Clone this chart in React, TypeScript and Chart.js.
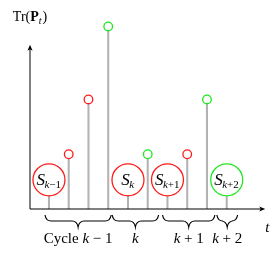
import React, { useEffect, useRef } from "react";
import { Chart, registerables } from "chart.js";

Chart.register(...registerables);

// ---- data ----
const steps = ["t1", "t2", "t3", "t4", "t5", "t6", "t7", "t8", "t9", "t10"];
const traceValues = [1.6, 3, 6, 10, 1.6, 3, 1.6, 3, 6, 1.6];
const markerColors = ["red", "red", "red", "green", "red", "green", "red", "red", "green", "green"];
const stateBase = ["S", "", "", "", "S", "", "S", "", "", "S"];
const stateSub = ["k−1", "", "", "", "k", "", "k+1", "", "", "k+2"];
const braceFrom = [-0.2, 3.2, 5.75, 8.5];
const braceTo = [3.15, 5.55, 8.4, 9.55];
const bracePrefix = ["Cycle ", "", "", ""];
const braceVar = ["k", "k", "k", "k"];
const braceSuffix = [" − 1", "", " + 1", " + 2"];
const yAxisLabelMain = "Tr(";
const yAxisLabelBold = "P";
const yAxisLabelSub = "t";
const xAxisLabel = "t";

const RED = "#ff1a1a";
const GREEN = "#1ee61e";
const STEM = "#b3b3b3";
const SERIF = '"Liberation Serif", serif';

const annotations = {
  id: "annotations",
  afterDatasetsDraw(chart: any) {
    const { ctx, scales } = chart;
    const xs = scales.x;
    const ys = scales.y;
    const x0 = xs.getPixelForValue(-0.96);
    const y0 = ys.getPixelForValue(0);
    const xEnd = xs.getPixelForValue(10.95);
    const yEnd = ys.getPixelForValue(9);
    ctx.save();
    ctx.strokeStyle = "#000";
    ctx.fillStyle = "#000";
    ctx.lineWidth = 1;
    ctx.beginPath();
    ctx.moveTo(x0, y0);
    ctx.lineTo(xEnd - 3, y0);
    ctx.moveTo(x0, y0);
    ctx.lineTo(x0, yEnd + 3);
    ctx.stroke();
    ctx.beginPath();
    ctx.moveTo(xEnd, y0);
    ctx.lineTo(xEnd - 6, y0 - 2.6);
    ctx.lineTo(xEnd - 4.5, y0);
    ctx.lineTo(xEnd - 6, y0 + 2.6);
    ctx.closePath();
    ctx.fill();
    ctx.beginPath();
    ctx.moveTo(x0, yEnd);
    ctx.lineTo(x0 - 2.6, yEnd + 6);
    ctx.lineTo(x0, yEnd + 4.5);
    ctx.lineTo(x0 + 2.6, yEnd + 6);
    ctx.closePath();
    ctx.fill();

    ctx.textBaseline = "alphabetic";
    ctx.textAlign = "left";
    const fMain = "14px " + SERIF;
    const fBold = "bold 14px " + SERIF;
    const fSub = "italic 10px " + SERIF;
    ctx.font = fMain;
    const w1 = ctx.measureText(yAxisLabelMain).width;
    ctx.font = fBold;
    const w2 = ctx.measureText(yAxisLabelBold).width;
    ctx.font = fSub;
    const w3 = ctx.measureText(yAxisLabelSub).width;
    ctx.font = fMain;
    const w4 = ctx.measureText(")").width;
    const total = w1 + w2 + w3 + w4 + 1;
    let tx = x0 - total / 2;
    const tb = 21;
    ctx.font = fMain;
    ctx.fillText(yAxisLabelMain, tx, tb);
    tx += w1;
    ctx.font = fBold;
    ctx.fillText(yAxisLabelBold, tx, tb);
    tx += w2;
    ctx.font = fSub;
    ctx.fillText(yAxisLabelSub, tx, tb + 3);
    tx += w3 + 1;
    ctx.font = fMain;
    ctx.fillText(")", tx, tb);

    ctx.font = "italic 15px " + SERIF;
    ctx.textAlign = "center";
    ctx.fillText(xAxisLabel, xEnd + 2, 232);

    const meta = chart.getDatasetMeta(1);
    for (let i = 0; i < steps.length; i++) {
      if (!stateBase[i]) continue;
      const p = meta.data[i];
      const fS = "italic 17px " + SERIF;
      const fK = "11px " + SERIF;
      const fKi = "italic 11px " + SERIF;
      ctx.font = fS;
      const sw = ctx.measureText(stateBase[i]).width;
      const sub = stateSub[i];
      ctx.font = fKi;
      const kw = ctx.measureText(sub[0]).width;
      ctx.font = fK;
      const rest = sub.slice(1);
      const rw = ctx.measureText(rest).width;
      const tw = sw + kw + rw;
      let x = p.x - tw / 2;
      const base = p.y + 5.5;
      ctx.textAlign = "left";
      ctx.font = fS;
      ctx.fillText(stateBase[i], x, base);
      x += sw - 0.5;
      ctx.font = fKi;
      ctx.fillText(sub[0], x, base + 2.5);
      x += kw;
      ctx.font = fK;
      ctx.fillText(rest, x, base + 2.5);
    }

    const top = y0 + 6;
    const mid = y0 + 12;
    const tip = y0 + 18;
    ctx.lineWidth = 1.2;
    ctx.strokeStyle = "#000";
    for (let b = 0; b < braceFrom.length; b++) {
      const a = xs.getPixelForValue(braceFrom[b]);
      const c = xs.getPixelForValue(braceTo[b]);
      const m = (a + c) / 2;
      const r = 6;
      ctx.beginPath();
      ctx.moveTo(a, top);
      ctx.quadraticCurveTo(a + 1, mid, a + r, mid);
      ctx.lineTo(m - r, mid);
      ctx.quadraticCurveTo(m - 1, mid, m, tip);
      ctx.quadraticCurveTo(m + 1, mid, m + r, mid);
      ctx.lineTo(c - r, mid);
      ctx.quadraticCurveTo(c - 1, mid, c, top);
      ctx.stroke();

      const fu = "15px " + SERIF;
      const fi = "italic 15px " + SERIF;
      ctx.font = fu;
      const pw = ctx.measureText(bracePrefix[b]).width;
      const sw2 = ctx.measureText(braceSuffix[b]).width;
      ctx.font = fi;
      const vw = ctx.measureText(braceVar[b]).width;
      let lx = m - (pw + vw + sw2) / 2;
      const lb = y0 + 34;
      ctx.textAlign = "left";
      ctx.font = fu;
      ctx.fillText(bracePrefix[b], lx, lb);
      lx += pw;
      ctx.font = fi;
      ctx.fillText(braceVar[b], lx, lb);
      lx += vw;
      ctx.font = fu;
      ctx.fillText(braceSuffix[b], lx, lb);
    }
    ctx.restore();
  },
};

export default function App() {
  const ref = useRef<HTMLCanvasElement | null>(null);
  useEffect(() => {
    if (!ref.current) return;
    const colors = markerColors.map((c) => (c === "red" ? RED : GREEN));
    const radii = stateBase.map((s) => (s ? 16 : 4.3));
    const chart = new Chart(ref.current, {
      type: "bar",
      data: {
        labels: steps,
        datasets: [
          {
            type: "bar",
            data: traceValues,
            backgroundColor: STEM,
            borderWidth: 0,
            barThickness: 1.4,
            order: 2,
          } as any,
          {
            type: "line",
            data: traceValues,
            showLine: false,
            pointRadius: radii,
            pointHoverRadius: radii,
            pointBorderColor: colors,
            pointBackgroundColor: "#ffffff",
            pointBorderWidth: 1.3,
            clip: false,
            order: 1,
          } as any,
        ],
      },
      options: {
        responsive: false,
        animation: false,
        events: [],
        layout: { padding: { left: 39.1, right: 41.4, top: 2, bottom: 46 } },
        plugins: { legend: { display: false }, tooltip: { enabled: false } },
        scales: {
          x: { display: false, offset: true, grid: { display: false } },
          y: { display: false, min: 0, max: 10.5 },
        },
      },
      plugins: [annotations],
    });
    return () => chart.destroy();
  }, []);
  return (
    <div style={{ position: "fixed", left: 0, top: 0, width: 278, height: 255, background: "#fff" }}>
      <canvas ref={ref} width={278} height={255} />
    </div>
  );
}
